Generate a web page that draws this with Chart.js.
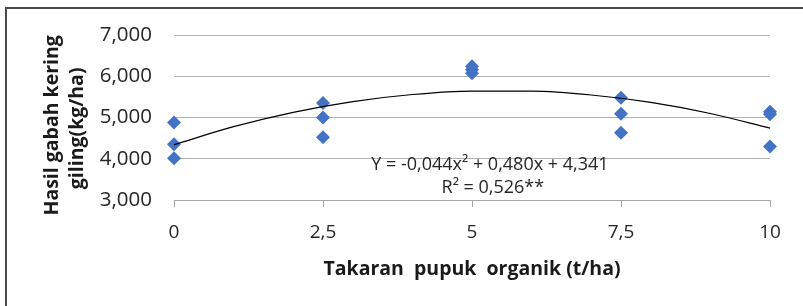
<!DOCTYPE html>
<html>
<head>
<meta charset="utf-8">
<script src="https://cdn.jsdelivr.net/npm/chart.js@4/dist/chart.umd.min.js"></script>
<style>
  html, body { margin: 0; padding: 0; background: #ffffff; }
  #wrap { width: 803px; height: 306px; position: relative; }
</style>
</head>
<body>
<div id="wrap"><canvas id="c" width="803" height="306"></canvas></div>
<script>
// ---- data ----
const doses  = [0, 0, 0, 2.5, 2.5, 2.5, 5, 5, 5, 7.5, 7.5, 7.5, 10, 10, 10];
const yields = [4880, 4350, 4010, 5350, 5000, 4520, 6240, 6160, 6070, 5480, 5090, 4630, 5140, 5080, 4300];
// quadratic trend line values as drawn (kg/ha)
const trendX = [0, 1, 2, 3, 4, 5, 6, 7, 8, 9, 10];
const trendY = [4341, 4777, 5125, 5385, 5557, 5641, 5637, 5545, 5365, 5097, 4741];
const xTicks = [0, 2.5, 5, 7.5, 10];
const yTicks = [3000, 4000, 5000, 6000, 7000];
const eqLine = 'Y = -0,044x\u00B2 + 0,480x + 4,341';
const r2Line = 'R\u00B2 = 0,526**';
const xTitle = 'Takaran  pupuk  organik (t/ha)';
const yTitle = ['Hasil gabah kering', 'giling(kg/ha)'];

const FONT = '"Open Sans", "Noto Sans", sans-serif';

const framePlugin = {
  id: 'frame',
  beforeDraw(chart) {
    const ctx = chart.ctx;
    ctx.save();
    ctx.fillStyle = '#ffffff';
    ctx.fillRect(0, 0, chart.width, chart.height);
    ctx.strokeStyle = '#4a4a4a';
    ctx.lineWidth = 2;
    ctx.beginPath();
    ctx.moveTo(6, chart.height);
    ctx.lineTo(6, 8);
    ctx.lineTo(chart.width, 8);
    ctx.stroke();
    ctx.restore();
  }
};

const textPlugin = {
  id: 'texts',
  afterDraw(chart) {
    const ctx = chart.ctx;
    const xs = chart.scales.x, ys = chart.scales.y;
    ctx.save();
    // regression annotation
    ctx.fillStyle = '#262626';
    ctx.font = '18px ' + FONT;
    ctx.textAlign = 'center';
    ctx.textBaseline = 'middle';
    ctx.fillText(eqLine, xs.getPixelForValue(5.3), ys.getPixelForValue(3860));
    ctx.fillText(r2Line, xs.getPixelForValue(5.35), ys.getPixelForValue(3290));
    // y axis title (two rotated lines)
    ctx.fillStyle = '#1a1a1a';
    ctx.font = 'bold 19.5px ' + FONT;
    const cy = ys.getPixelForValue(4810);
    ctx.translate(52, cy);
    ctx.rotate(-Math.PI / 2);
    ctx.fillText(yTitle[0], 0, 0);
    ctx.fillText(yTitle[1], -3, 25);
    ctx.restore();
  }
};

new Chart(document.getElementById('c'), {
  type: 'scatter',
  data: {
    datasets: [
      {
        label: 'trend',
        type: 'line',
        data: trendX.map((x, i) => ({ x: x, y: trendY[i] })),
        borderColor: '#000000',
        borderWidth: 1.2,
        pointRadius: 0,
        cubicInterpolationMode: 'monotone',
        fill: false,
        clip: false,
        order: 0
      },
      {
        label: 'data',
        data: doses.map((x, i) => ({ x: x, y: yields[i] })),
        pointStyle: 'rectRot',
        pointRadius: 7,
        backgroundColor: '#4472C4',
        borderColor: '#4472C4',
        borderWidth: 0,
        clip: false,
        order: 1
      }
    ]
  },
  options: {
    responsive: false,
    animation: false,
    events: [],
    layout: { padding: { left: 0, right: 33, top: 35, bottom: 0 } },
    plugins: { legend: { display: false }, tooltip: { enabled: false } },
    scales: {
      x: {
        type: 'linear',
        min: 0, max: 10,
        afterBuildTicks(scale) { scale.ticks = xTicks.map(v => ({ value: v })); },
        afterFit(scale) { scale.height = 106; },
        ticks: {
          padding: 14,
          color: '#262626',
          font: { family: FONT, size: 19 },
          callback: v => String(v).replace('.', ',')
        },
        grid: { display: true, drawOnChartArea: false, drawTicks: true, tickLength: 7, color: '#a6a6a6' },
        border: { display: true, color: '#a6a6a6', width: 1 },
        title: {
          display: true,
          text: xTitle,
          color: '#1a1a1a',
          font: { family: FONT, size: 19.5, weight: 'bold' },
          padding: { top: 0, bottom: 25 }
        }
      },
      y: {
        type: 'linear',
        min: 3000, max: 7000,
        afterBuildTicks(scale) { scale.ticks = yTicks.map(v => ({ value: v })); },
        afterFit(scale) { scale.width = 174; },
        ticks: {
          padding: 22,
          color: '#262626',
          font: { family: FONT, size: 20.5 },
          callback: v => v.toLocaleString('en-US')
        },
        grid: { display: true, drawTicks: false, color: '#b3b3b3' },
        border: { display: false },
        title: { display: false }
      }
    }
  },
  plugins: [framePlugin, textPlugin]
});
</script>
</body>
</html>
